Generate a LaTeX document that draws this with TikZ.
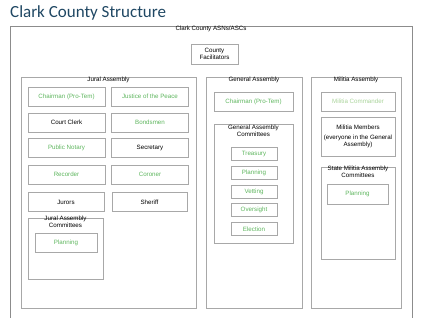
\documentclass[tikz,border=0pt]{standalone}
\usepackage{xcolor}
\usepackage{fontspec}
\setmainfont{Liberation Sans}
\newfontfamily\titlefont{Carlito}
\usepackage{tikz}
\usetikzlibrary{positioning}
\definecolor{boxgray}{HTML}{A8A8A8}
\definecolor{outergray}{HTML}{8C8C8C}
\definecolor{rolegreen}{HTML}{5DB55D}
\definecolor{palegreen}{HTML}{A9D39A}
\definecolor{titleblue}{HTML}{1F4763}
\newcommand{\boxfont}{\fontsize{6.2}{7}\selectfont}

\begin{document}
\begin{tikzpicture}[x=1pt, y=-1pt,
  box/.style={draw=boxgray, line width=0.9pt, inner sep=0pt, align=center, font=\boxfont},
  role/.style={box, minimum width=77pt, minimum height=19pt, text=rolegreen},
  plain/.style={role, text=black},
  cmte/.style={box, minimum width=46pt, minimum height=13pt, text=rolegreen},
  caption/.style={inner sep=0.5pt, align=center, font=\boxfont}
]
\useasboundingbox (0,0) rectangle (445,318);

\node[anchor=base west, inner sep=0pt, text=titleblue, font=\titlefont\fontsize{17}{20}\selectfont] (title) at (10,17.5) {Clark County Structure};

% outer frame and facilitators
\node[box, draw=outergray, minimum width=402pt, minimum height=296pt] (county) at (211,174) {};
\node[caption, anchor=north] (countycap) at (county.north) {Clark County ASNs/ASCs};
\node[box, minimum width=47pt, minimum height=20pt] (facil) at (214.5,54) {County\\Facilitators};

% assemblies
\node[box, minimum width=175pt, minimum height=231pt] (jural) at (108.5,192.5) {};
\node[box, minimum width=96pt, minimum height=231pt] (general) at (254,192.5) {};
\node[box, minimum width=90pt, minimum height=231pt] (militia) at (356,192.5) {};
\node[caption, anchor=north] (juralcap) at (jural.north) {Jural Assembly};
\node[caption, anchor=north] (generalcap) at (general.north) {General Assembly};
\node[caption, anchor=north] (militiacap) at (militia.north) {Militia Assembly};

% jural assembly
\node[role] (jchair) at (66.5,96.5) {Chairman (Pro-Tem)};
\node[role] (justice) at (150,96.5) {Justice of the Peace};
\node[plain] (clerk) at (66.5,122.5) {Court Clerk};
\node[role] (bonds) at (150,122.5) {Bondsmen};
\node[role] (notary) at (66.5,148) {Public Notary};
\node[plain] (secr) at (150,148) {Secretary};
\node[role] (recorder) at (66.5,174.5) {Recorder};
\node[role] (coroner) at (150,174.5) {Coroner};
\node[plain, minimum width=76pt] (jurors) at (66,202) {Jurors};
\node[plain, minimum width=75pt] (sheriff) at (149.5,202) {Sheriff};
\node[box, minimum width=75pt, minimum height=61pt] (jcmte) at (65.5,248.5) {};
\node[caption] (jcmtecap) at (65.5,222) {Jural Assembly\\Committees};
\node[role, minimum width=62pt] (jplan) at (66,242.5) {Planning};

% general assembly
\node[role, minimum width=79pt] (gchair) at (253.5,101.5) {Chairman (Pro-Tem)};
\node[box, minimum width=79pt, minimum height=119pt] (gcmte) at (253.5,183.5) {};
\node[caption] (gcmtecap) at (253.5,131) {General Assembly\\Committees};
\node[cmte] (treas) at (254,154) {Treasury};
\node[cmte] (gplan) at (254,173) {Planning};
\node[cmte] (vetting) at (254,192) {Vetting};
\node[cmte] (oversight) at (254,210) {Oversight};
\node[cmte] (election) at (254,229) {Election};

% militia assembly
\node[role, minimum width=74pt, text=palegreen] (mcmdr) at (358,101.5) {Militia Commander};
\node[box, minimum width=74pt, minimum height=39pt] (members) at (358,136.5) {Militia Members\\[3.5pt](everyone in the General\\Assembly)};
\node[box, minimum width=74pt, minimum height=92pt] (mcmte) at (358,213) {};
\node[caption] (mcmtecap) at (358,172) {State Militia Assembly\\Committees};
\node[role, minimum width=61pt, minimum height=20pt] (mplan) at (357.5,194) {Planning};
\end{tikzpicture}
\end{document}
